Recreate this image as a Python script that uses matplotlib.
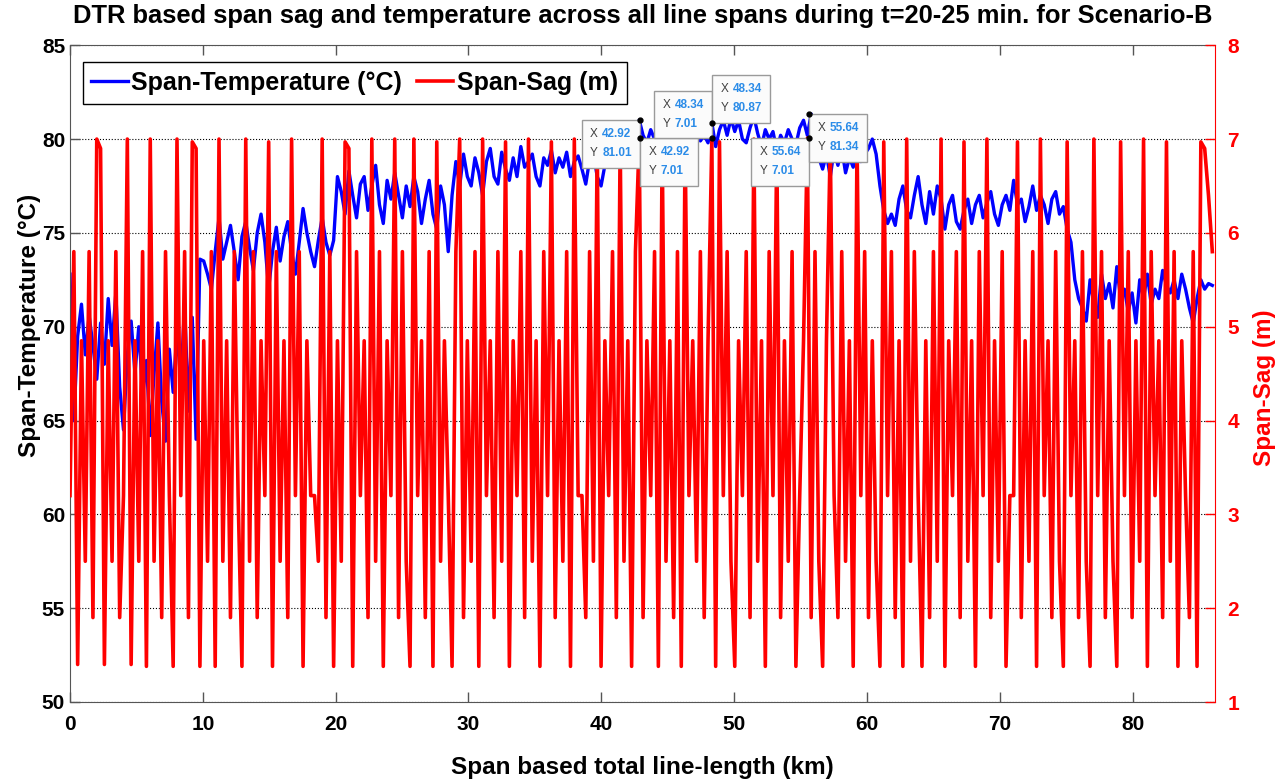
import numpy as np
import matplotlib
matplotlib.use("Agg")
import matplotlib.pyplot as plt
from matplotlib.offsetbox import AnnotationBbox, TextArea, HPacker, VPacker

plt.rcParams["font.family"] = ["Liberation Sans", "DejaVu Sans"]
plt.rcParams["font.weight"] = "bold"

# total line length covered by the spans (km)
line_len_km = 86.0

# span conductor temperature (degC), one value per span
span_temp = [
    72.8, 65.0, 69.5, 71.2, 68.5, 70.6, 69.0, 67.2, 70.2, 68.0, 71.5, 69.0, 71.8, 66.8, 64.5, 68.5, 70.3,
    67.5, 70.0, 66.3, 68.2, 64.2, 67.5, 70.2, 66.0, 63.9, 68.8, 66.5, 69.8, 67.0, 71.2, 65.5, 70.5, 64.0, 73.6,
    73.5, 72.8, 72.0, 74.0, 75.8, 73.6, 74.5, 75.4, 74.0, 72.5, 74.8, 75.6, 74.2, 73.0, 75.0, 76.0, 74.5,
    72.0, 74.0, 75.3, 73.5, 74.8, 75.6, 74.0, 72.8, 74.5, 76.3, 75.0, 74.0, 73.2, 74.6, 75.8, 74.5, 73.8, 74.6,
    78.0, 77.2, 76.0, 78.3, 77.0, 75.8, 77.6, 78.0, 76.2, 77.5, 78.6, 76.5, 75.5, 77.8, 76.8, 78.2, 77.0,
    75.8, 77.5, 76.4, 78.0, 77.2, 75.5, 76.8, 77.8, 76.0, 75.2, 77.5, 76.5, 74.0, 77.0, 78.8, 77.5, 79.2, 78.0,
    77.5, 79.0, 78.2, 77.0, 78.8, 79.5, 78.0, 77.6, 79.3, 78.4, 77.8, 79.0, 78.0, 79.6, 78.5, 78.8, 79.2,
    78.0, 77.5, 79.0, 78.6, 79.4, 78.2, 79.0, 78.5, 79.3, 78.0, 78.8, 79.1, 78.4, 77.6, 78.9, 79.2, 78.0, 77.5,
    78.6, 79.2, 78.8, 79.6, 79.0, 80.2, 79.4, 80.0, 80.4, 81.01, 80.2, 79.8, 80.5, 80.0, 80.3, 79.6, 80.1,
    80.6, 79.8, 80.2, 79.5, 80.0, 80.4, 79.7, 80.3, 79.9, 80.2, 79.8, 80.87, 79.6, 80.5, 81.0, 80.2, 81.1, 80.4,
    81.0, 80.0, 79.8, 80.6, 81.2, 80.3, 79.6, 80.5, 80.0, 80.4, 79.4, 80.2, 79.8, 80.5, 80.0, 79.7, 80.6,
    81.0, 80.2, 81.34, 80.2, 79.0, 78.4, 79.2, 78.0, 79.4, 78.6, 79.5, 78.2, 79.0, 78.5, 79.6, 78.8, 79.2,
    79.5, 80.0, 79.2, 77.5, 76.2, 75.5, 76.0, 75.4, 76.8, 77.5, 76.2, 75.8, 77.0, 78.0, 76.5, 75.5, 77.2,
    76.0, 77.5, 76.8, 75.2, 76.5, 77.0, 75.6, 75.2, 76.2, 76.8, 75.5, 76.5, 77.0, 75.8, 76.6, 77.2, 76.0, 75.4,
    76.5, 77.0, 76.2, 77.8, 76.5, 76.8, 75.6, 76.4, 77.5, 76.2, 77.0, 76.5, 75.5, 76.8, 77.2, 76.0, 76.4,
    75.2, 74.5, 72.5, 71.5,
    71.0, 70.3, 72.5, 71.2, 70.5, 72.8, 71.5, 72.3, 71.0, 73.2, 71.5, 72.0, 70.8, 71.8, 70.2, 72.5, 71.5,
    72.8, 71.2, 72.0, 71.5, 73.0, 72.2, 71.8, 72.5, 71.5, 72.8, 72.0, 71.0, 70.2, 71.5, 72.5, 72.0, 72.3, 72.2,
]

# span sag (m), one value per span
span_sag = [
    3.2, 5.8, 1.4, 4.85, 2.5, 5.8, 1.9, 7.0, 6.9, 1.4, 4.85, 2.5, 5.8, 1.9, 3.2, 7.0, 1.4, 4.85, 2.5, 5.8,
    1.38, 7.0, 2.5, 4.85, 1.9, 5.8, 3.2, 1.38, 7.0, 3.2, 5.8, 1.9, 6.97, 6.9, 1.38, 4.85, 2.5, 5.8, 1.38, 7.0,
    2.5, 4.85, 1.9, 5.8, 3.2, 1.38, 7.0, 2.5, 5.8, 1.9, 4.85, 3.2, 6.97, 1.38, 5.8, 2.5, 4.85, 1.9, 7.0, 3.2,
    5.8, 1.38, 4.85, 3.2, 3.2, 2.5, 7.0, 1.9, 5.8, 1.38, 4.85, 2.5, 6.97, 6.9, 1.38, 5.8, 3.2, 4.85, 1.9, 7.0,
    2.5, 5.8, 1.38, 4.85, 3.2, 7.0, 1.9, 5.8, 2.5, 1.38, 7.0, 3.2, 4.85, 1.9, 5.8, 1.38, 6.97, 2.5, 4.85, 3.2,
    1.38, 5.8, 7.0, 1.9, 4.85, 2.5, 5.8, 1.38, 7.0, 3.2, 4.85, 1.9, 5.8, 2.5, 6.97, 1.38, 4.85, 3.2, 5.8, 1.9,
    7.0, 2.5, 4.85, 1.38, 5.8, 3.2, 6.97, 1.9, 4.85, 2.5, 5.8, 1.38, 7.0, 3.2, 3.2, 1.9, 5.8, 2.5, 7.0, 1.38,
    4.85, 3.2, 5.8, 1.9, 7.0, 2.5, 4.85, 1.38, 5.8, 7.01, 1.9, 4.85, 3.2, 5.8, 1.38, 6.97, 2.5, 4.85, 1.9, 5.8,
    1.38, 7.0, 3.2, 4.85, 2.5, 5.8, 1.9, 4.85, 7.01, 1.38, 6.97, 3.2, 5.8, 2.5, 1.38, 4.85, 3.2, 5.8, 1.9, 7.0,
    2.5, 4.85, 1.38, 5.8, 3.2, 6.97, 1.9, 4.85, 2.5, 5.8, 1.38, 3.2, 4.85, 7.01, 1.9, 5.8, 2.5, 1.38, 4.85, 6.97,
    3.2, 1.9, 5.8, 2.5, 4.85, 1.38, 7.0, 3.2, 5.8, 1.9, 4.85, 2.5, 1.38, 6.97, 3.2, 5.8, 1.9, 4.85, 1.38, 7.0,
    2.5, 5.8, 3.2, 1.38, 4.85, 1.9, 5.8, 2.5, 7.0, 1.38, 4.85, 3.2, 5.8, 1.9, 6.97, 2.5, 4.85, 1.38, 5.8, 3.2,
    7.0, 1.9, 4.85, 2.5, 5.8, 1.38, 3.2, 3.2, 6.97, 1.9, 4.85, 2.5, 5.8, 1.38, 7.0, 3.2, 4.85, 1.9, 5.8, 2.5,
    1.38, 6.97, 3.2, 4.85, 1.9, 5.8, 2.5, 1.38, 7.0, 3.2, 5.8, 1.9, 4.85, 2.5, 1.38, 6.97, 3.2, 5.8, 1.9, 4.85,
    2.5, 7.0, 1.38, 5.8, 3.2, 4.85, 1.9, 6.97, 2.5, 5.8, 1.38, 4.85, 3.2, 1.9, 5.8, 1.38, 6.97, 6.9, 6.4, 5.8,
]

# data tips shown on the figure: (x km, value, which axis)
tip_x = [42.92, 42.92, 48.34, 48.34, 55.64, 55.64]
tip_y = [81.01, 7.01, 7.01, 80.87, 7.01, 81.34]
tip_axis = ["temp", "sag", "sag", "temp", "sag", "temp"]
tip_align = [(1, 1), (0, 1), (1, 0), (0, 0), (1, 1), (0, 1)]

x_temp = np.linspace(0, line_len_km, len(span_temp))
x_sag = np.linspace(0, line_len_km, len(span_sag))

fig = plt.figure(figsize=(12.8, 7.8), dpi=100)
ax1 = fig.add_axes([0.0547, 0.1, 0.8945, 0.842])
ax2 = ax1.twinx()

axis_grey = "#555555"

(h_temp,) = ax1.plot(x_temp, span_temp, color="blue", lw=2.4, label="Span-Temperature (\u00b0C)")
(h_sag,) = ax2.plot(x_sag, span_sag, color="red", lw=2.6, label="Span-Sag (m)")

ax1.set_xlim(0, 86.2)
ax1.set_ylim(50, 85)
ax2.set_ylim(1, 8)
ax1.set_xticks(np.arange(0, 81, 10))
ax1.set_yticks(np.arange(50, 86, 5))
ax2.set_yticks(np.arange(1, 9, 1))

ax1.yaxis.grid(True, linestyle=":", color="black", lw=0.8)
ax1.tick_params(axis="both", direction="in", length=7, width=1, colors=axis_grey,
                labelcolor="black", labelsize=15, top=True, right=False)
ax1.tick_params(axis="x", pad=9)
ax2.tick_params(axis="y", direction="in", length=7, width=1, colors="red",
                labelcolor="red", labelsize=15, pad=9)
for sp in ["left", "bottom", "top"]:
    ax1.spines[sp].set_color(axis_grey)
    ax2.spines[sp].set_visible(False)
ax1.spines["right"].set_visible(False)
ax2.spines["right"].set_color("red")

ax1.set_xlabel("Span based total line-length (km)", fontsize=17.5, fontweight="bold")
ax1.xaxis.set_label_coords(0.5, -0.082)
ax1.set_ylabel("Span-Temperature (\u00b0C)", fontsize=17.5, fontweight="bold")
ax1.yaxis.set_label_coords(-0.0255, 0.574)
ax2.set_ylabel("Span-Sag (m)", fontsize=17.5, fontweight="bold", color="red", rotation=90)
ax2.yaxis.set_label_coords(1.033, 0.478)

fig.text(0.502, 0.980, "DTR based span sag and temperature across all line spans during "
         "t=20-25 min. for Scenario-B", ha="center", va="center", fontsize=18.4, fontweight="bold")

leg = ax2.legend(handles=[h_temp, h_sag], loc="upper left", bbox_to_anchor=(0.011, 0.974),
                 borderaxespad=0, ncol=2, fontsize=18, handlelength=1.45, handletextpad=0.15,
                 columnspacing=0.6, fancybox=False, framealpha=1, edgecolor="black",
                 borderpad=0.35)
leg.get_frame().set_linewidth(1)

tip_pad = 0.6  # box padding, fraction of 10 pt


def tip_box(xv, yv):
    rows = []
    for key, val in (("X", xv), ("Y", yv)):
        rows.append(HPacker(children=[
            TextArea(key, textprops=dict(color="#404040", fontsize=8.5, fontweight="normal")),
            TextArea(f"{val:.2f}", textprops=dict(color="#2b8ce8", fontsize=8.5, fontweight="bold")),
        ], pad=0, sep=3, align="baseline"))
    return VPacker(children=rows, pad=0, sep=5, align="left")


# data tips drawn on top of everything, frame corner sitting on the point
for xv, yv, which, al in zip(tip_x, tip_y, tip_axis, tip_align):
    trans = ax1.transData if which == "temp" else ax2.transData
    off = tip_pad * 10
    shift = ((1 - 2 * al[0]) * off, (1 - 2 * al[1]) * off)
    ab = AnnotationBbox(tip_box(xv, yv), (xv, yv), xycoords=trans, xybox=shift,
                        boxcoords="offset points", box_alignment=al,
                        pad=tip_pad, frameon=True,
                        bboxprops=dict(facecolor="#fbfbfb", edgecolor="#9a9a9a", lw=1))
    ab.set_zorder(10)
    ax2.add_artist(ab)
    ax2.plot([xv], [yv], "o", color="black", ms=3.5, transform=trans, zorder=11, clip_on=False)

fig.savefig("out.png", dpi=100)
